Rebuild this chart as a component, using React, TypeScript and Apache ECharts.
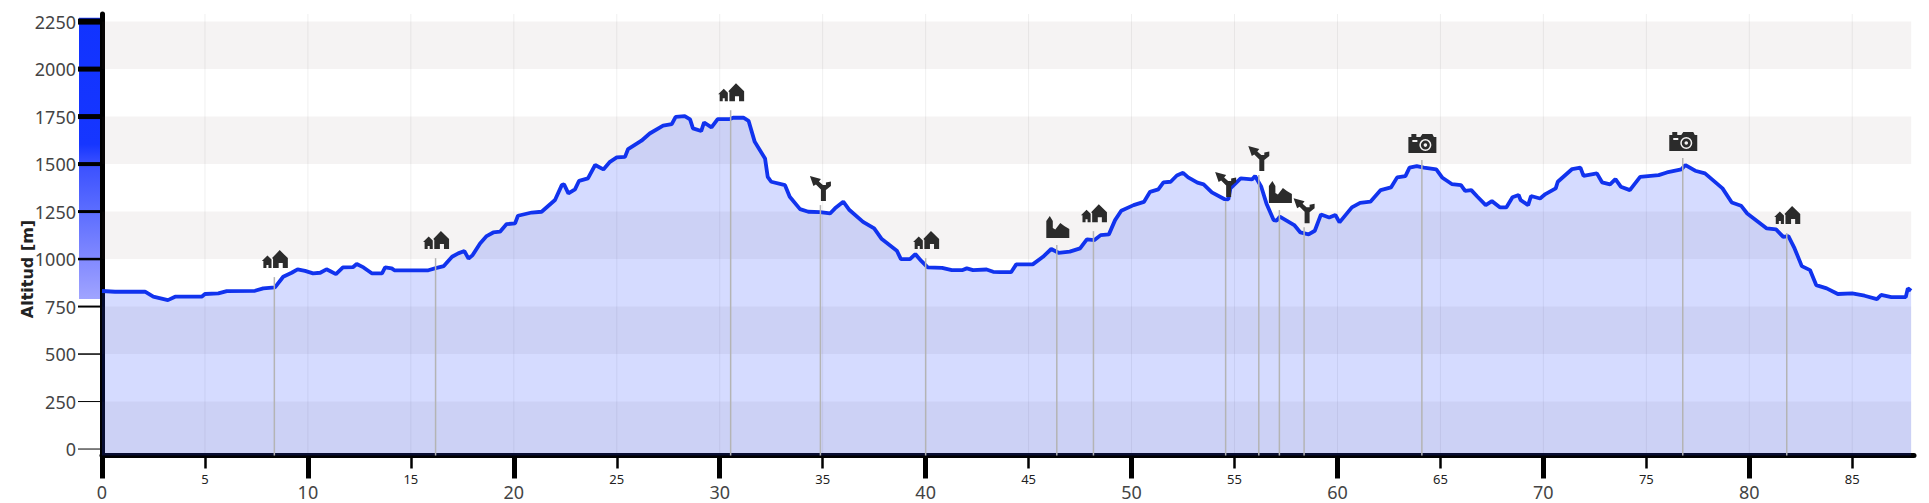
import React, { useEffect, useRef } from "react";
import * as echarts from "echarts";

const distanceKm = [0,0.63,2.09,2.49,3.2,3.55,4.84,5.0,5.65,6.06,7.43,7.83,8.4,8.8,9.21,9.5,9.86,10.25,10.6,10.9,11.07,11.36,11.7,12.2,12.37,12.7,13.1,13.6,13.75,14.07,14.2,15.85,16.25,16.6,17.0,17.3,17.6,17.8,18.0,18.36,18.68,19.0,19.33,19.65,20.06,20.2,20.87,21.35,22.0,22.33,22.44,22.65,22.97,23.17,23.6,23.95,24.35,24.67,25.0,25.4,25.55,26.2,26.6,27.25,27.67,27.86,28.3,28.56,28.7,29.1,29.24,29.6,29.9,30.5,30.65,31.15,31.4,31.7,32.2,32.33,32.5,33.17,33.4,33.9,34.3,34.87,35.36,35.6,36.0,36.3,36.96,37.5,37.87,38.6,38.8,39.24,39.5,39.8,40.1,40.8,41.27,41.8,42.0,42.3,42.96,43.28,43.6,44.15,44.4,45.2,45.7,46.1,46.45,47.0,47.5,47.83,48.2,48.5,48.9,49.2,49.5,50.1,50.6,50.9,51.3,51.55,51.9,52.2,52.5,52.75,53.2,53.5,53.9,54.5,54.7,54.8,55.3,55.85,56.0,56.3,56.55,56.9,57.05,57.2,57.9,58.2,58.6,58.9,59.2,59.6,59.9,60.1,60.7,61.1,61.6,62.1,62.6,62.9,63.3,63.5,63.85,64.2,64.8,65.1,65.55,66.0,66.2,66.5,66.8,67.2,67.5,67.9,68.2,68.5,68.8,68.9,69.26,69.4,69.84,70.1,70.6,70.7,71.4,71.8,71.95,72.6,72.85,73.24,73.5,73.76,74.2,74.7,75.6,76.0,76.7,76.9,77.37,77.85,78.7,79.15,79.6,79.9,80.85,81.3,81.65,81.9,82.2,82.55,82.95,83.25,83.76,84.3,85.0,85.6,86.2,86.4,86.9,87.6,87.7,87.86];
const altitudeM = [832,828,828,802,784,802,802,816,819,831,833,846,851,907,928,946,938,925,928,946,937,921,956,958,974,956,925,925,956,951,941,941,954,963,1012,1030,1042,1002,1021,1082,1121,1140,1144,1184,1188,1228,1245,1249,1311,1389,1393,1346,1367,1412,1425,1495,1472,1512,1535,1538,1579,1623,1661,1702,1710,1749,1752,1735,1688,1674,1719,1693,1737,1737,1744,1744,1728,1617,1530,1433,1407,1389,1328,1263,1249,1247,1240,1267,1302,1258,1196,1161,1105,1044,1000,1000,1026,989,956,954,942,942,951,942,945,933,931,931,972,972,1012,1053,1033,1039,1056,1104,1100,1126,1130,1205,1254,1284,1301,1354,1367,1404,1407,1440,1454,1430,1402,1393,1351,1316,1314,1372,1425,1419,1437,1381,1293,1205,1202,1223,1179,1140,1130,1149,1235,1219,1232,1193,1272,1296,1302,1363,1377,1430,1437,1481,1489,1481,1472,1428,1395,1389,1359,1363,1328,1284,1305,1272,1272,1325,1337,1310,1284,1332,1319,1342,1372,1407,1474,1481,1438,1451,1404,1393,1421,1381,1363,1433,1442,1456,1472,1495,1465,1451,1372,1298,1281,1240,1161,1156,1117,1121,1056,963,942,863,846,816,819,807,789,811,800,800,846,833];

const yTicks = [0,250,500,750,1000,1250,1500,1750,2000,2250];
const yTickWidths = [1,1,1.5,2,2.5,3,4,5,5,6];
const xMajorTicks = [0,10,20,30,40,50,60,70,80];
const xMinorTicks = [5,15,25,35,45,55,65,75,85];
const bandRanges = [[-34,250],[500,750],[1000,1250],[1500,1750],[2000,2250]];
const colorBarRange = [790,2270];

const poiKm = [8.37,16.2,30.53,34.89,40.0,46.37,48.15,54.57,56.18,57.18,58.38,64.1,76.77,81.82];
const poiTop = [905,1005,1784,1284,1005,1074,1147,1305,1442,1258,1168,1521,1532,1137];
const poiIcon = ["house","house","house","sign","house","factory","house","sign","sign","factory","sign","camera","camera","house"];

const circle = (cx: number, cy: number, r: number, sweep: number) =>
  `M${cx - r} ${cy}A${r} ${r} 0 1 ${sweep} ${cx + r} ${cy}A${r} ${r} 0 1 ${sweep} ${cx - r} ${cy}Z`;

const ICONS: Record<string, { d: string; w: number; h: number; dx: number; gap: number }> = {
  house: {
    d: "M0 11L5.5 5.5L9.5 9.5L9.5 18L6.5 18L6.5 15L4.5 15L4.5 18L1.5 18L1.5 11ZM10 8L17.5 0L25.5 8L25.5 18L20.5 18L20.5 13L16.5 13L16.5 18L11 18L11 9Z",
    w: 26, h: 18, dx: -12.5, gap: 9,
  },
  sign: {
    d: "M0 0L11 3L9 5.5L13 9L16 9L16 6.5L21 5.5L21 10L16 14L16 25L11 25L11 13.5L6 8.5L3.5 10Z",
    w: 21, h: 25, dx: -10.5, gap: 4,
  },
  factory: {
    d: "M0 22L0 5L3.5 0L6.5 5L6.5 12L9 13.5L14 7L18 10L23 13L23 22Z",
    w: 23, h: 22, dx: -10.5, gap: 7,
  },
  camera: {
    d: "M0 3L3 3L3 0L8 0L8 3L12 3L14 0L24 0L25.5 3L28 3L28 19L0 19ZM4 6L4 8L9 8L9 6Z" +
      circle(17, 11, 6, 0) + circle(17, 11, 4.5, 1) + circle(17, 11, 1.8, 0),
    w: 28, h: 19, dx: -13.5, gap: 7,
  },
};

const LABEL_FONT = "Noto Sans";

export default function App() {
  const ref = useRef<HTMLDivElement>(null);
  useEffect(() => {
    const chart = echarts.init(ref.current!, undefined, { renderer: "svg" });
    const xRange = { min: 0, max: 88 };
    chart.setOption({
      animation: false,
      grid: { left: 102, right: 15, top: 14, bottom: 47.5, containLabel: false },
      xAxis: [
        {
          type: "value", position: "bottom", ...xRange,
          axisLine: { onZero: false, show: true, lineStyle: { color: "#000", width: 5 } },
          axisTick: { show: true, customValues: xMajorTicks, length: 23, lineStyle: { color: "#000", width: 5 } },
          axisLabel: {
            customValues: xMajorTicks, margin: 27, fontSize: 18,
            fontFamily: LABEL_FONT, color: "#444", formatter: (v: number) => String(v),
          },
          splitLine: { show: false },
          minorSplitLine: { show: false },
        },
        {
          type: "value", position: "bottom", ...xRange,
          axisLine: { onZero: false, show: false },
          axisTick: { show: true, customValues: xMinorTicks, length: 13, lineStyle: { color: "#000", width: 2.5 } },
          axisLabel: {
            customValues: xMinorTicks, margin: 17, fontSize: 13,
            fontFamily: LABEL_FONT, color: "#222", formatter: (v: number) => String(v),
          },
          splitLine: { show: false },
          minorSplitLine: { show: false },
        },
      ],
      yAxis: {
        type: "value", min: -34, max: 2290,
        axisLine: { onZero: false, show: true, lineStyle: { color: "#000", width: 5 } },
        axisTick: { show: false },
        axisLabel: {
          customValues: yTicks, margin: 26, fontSize: 18, fontFamily: LABEL_FONT, color: "#444",
          formatter: (v: number) => String(v),
        },
        splitLine: { show: false },
      },
      graphic: [
        {
          type: "text", x: 27, y: 269, rotation: Math.PI / 2,
          style: {
            text: "Altitud [m]", fontSize: 16, fontWeight: "bold", fontFamily: "DejaVu Sans",
            fill: "#222", textAlign: "center", textVerticalAlign: "middle",
          },
        },
      ],
      series: [
        {
          type: "custom", name: "gridX", silent: true, z: 0,
          data: xMajorTicks.concat(xMinorTicks).filter((v) => v > 0).map((v) => [v]),
          encode: { x: 0 },
          renderItem: (_p: any, api: any) => {
            const a = api.coord([api.value(0), 2290]);
            const b = api.coord([api.value(0), -34]);
            return {
              type: "line",
              shape: { x1: a[0], y1: a[1], x2: b[0], y2: b[1] },
              style: { stroke: "#f0f0f0", lineWidth: 1, fill: "none" },
            };
          },
        },
        {
          type: "line", name: "Altitud", z: 3, showSymbol: false, symbol: "none", silent: true,
          data: distanceKm.map((d, i) => [d, altitudeM[i]]),
          lineStyle: { color: "#1133ee", width: 3.8 },
          areaStyle: { origin: "start", color: "rgba(17,51,255,0.175)", opacity: 1 },
          markArea: {
            silent: true,
            itemStyle: { color: "rgba(110,80,80,0.065)", opacity: 1 },
            data: bandRanges.map(([lo, hi]) => [
              { xAxis: 0, yAxis: lo },
              { xAxis: distanceKm[distanceKm.length - 1], yAxis: hi },
            ]),
          },
        },
        {
          type: "custom", name: "colorBar", silent: true, z: 4,
          data: [[0, colorBarRange[0], colorBarRange[1]]],
          encode: { x: 0, y: [1, 2] },
          renderItem: (_p: any, api: any) => {
            const lo = api.coord([0, api.value(1)]);
            const hi = api.coord([0, api.value(2)]);
            return {
              type: "rect",
              shape: { x: lo[0] - 23, y: hi[1], width: 21, height: lo[1] - hi[1] },
              style: {
                fill: new echarts.graphic.LinearGradient(0, 0, 0, 1, [
                  { offset: 0, color: "#1133ff" },
                  { offset: 0.45, color: "#1636ff" },
                  { offset: 0.52, color: "#3a50ff" },
                  { offset: 0.68, color: "#5a6cff" },
                  { offset: 0.85, color: "#8088ff" },
                  { offset: 1, color: "#a0a4ff" },
                ]),
              },
            };
          },
        },
        {
          type: "custom", name: "yTicks", silent: true, z: 5,
          data: yTicks.map((v, i) => [0, v, yTickWidths[i]]),
          encode: { x: 0, y: 1 },
          renderItem: (_p: any, api: any) => {
            const p = api.coord([0, api.value(1)]);
            return {
              type: "line",
              shape: { x1: p[0] - 24, y1: p[1], x2: p[0] - 2, y2: p[1] },
              style: { stroke: "#000", lineWidth: api.value(2) },
            };
          },
        },
        {
          type: "custom", name: "poi", silent: true, z: 6,
          data: poiKm.map((k, i) => [k, poiTop[i], i]),
          encode: { x: 0, y: 1 },
          renderItem: (_p: any, api: any) => {
            const top = api.coord([api.value(0), api.value(1)]);
            const bottom = api.coord([api.value(0), -34]);
            const ic = ICONS[poiIcon[api.value(2)]];
            return {
              type: "group",
              children: [
                {
                  type: "line",
                  shape: { x1: top[0], y1: top[1], x2: bottom[0], y2: bottom[1] },
                  style: { stroke: "#b4b4b4", lineWidth: 1.5 },
                },
                {
                  type: "path",
                  shape: {
                    pathData: ic.d, layout: "cover",
                    x: top[0] + ic.dx, y: top[1] - ic.gap - ic.h, width: ic.w, height: ic.h,
                  },
                  style: { fill: "#2b2b2b" },
                },
              ],
            };
          },
        },
      ],
    });
    return () => chart.dispose();
  }, []);
  return <div ref={ref} style={{ position: "absolute", left: 0, top: 0, width: 1929, height: 503 }} />;
}
